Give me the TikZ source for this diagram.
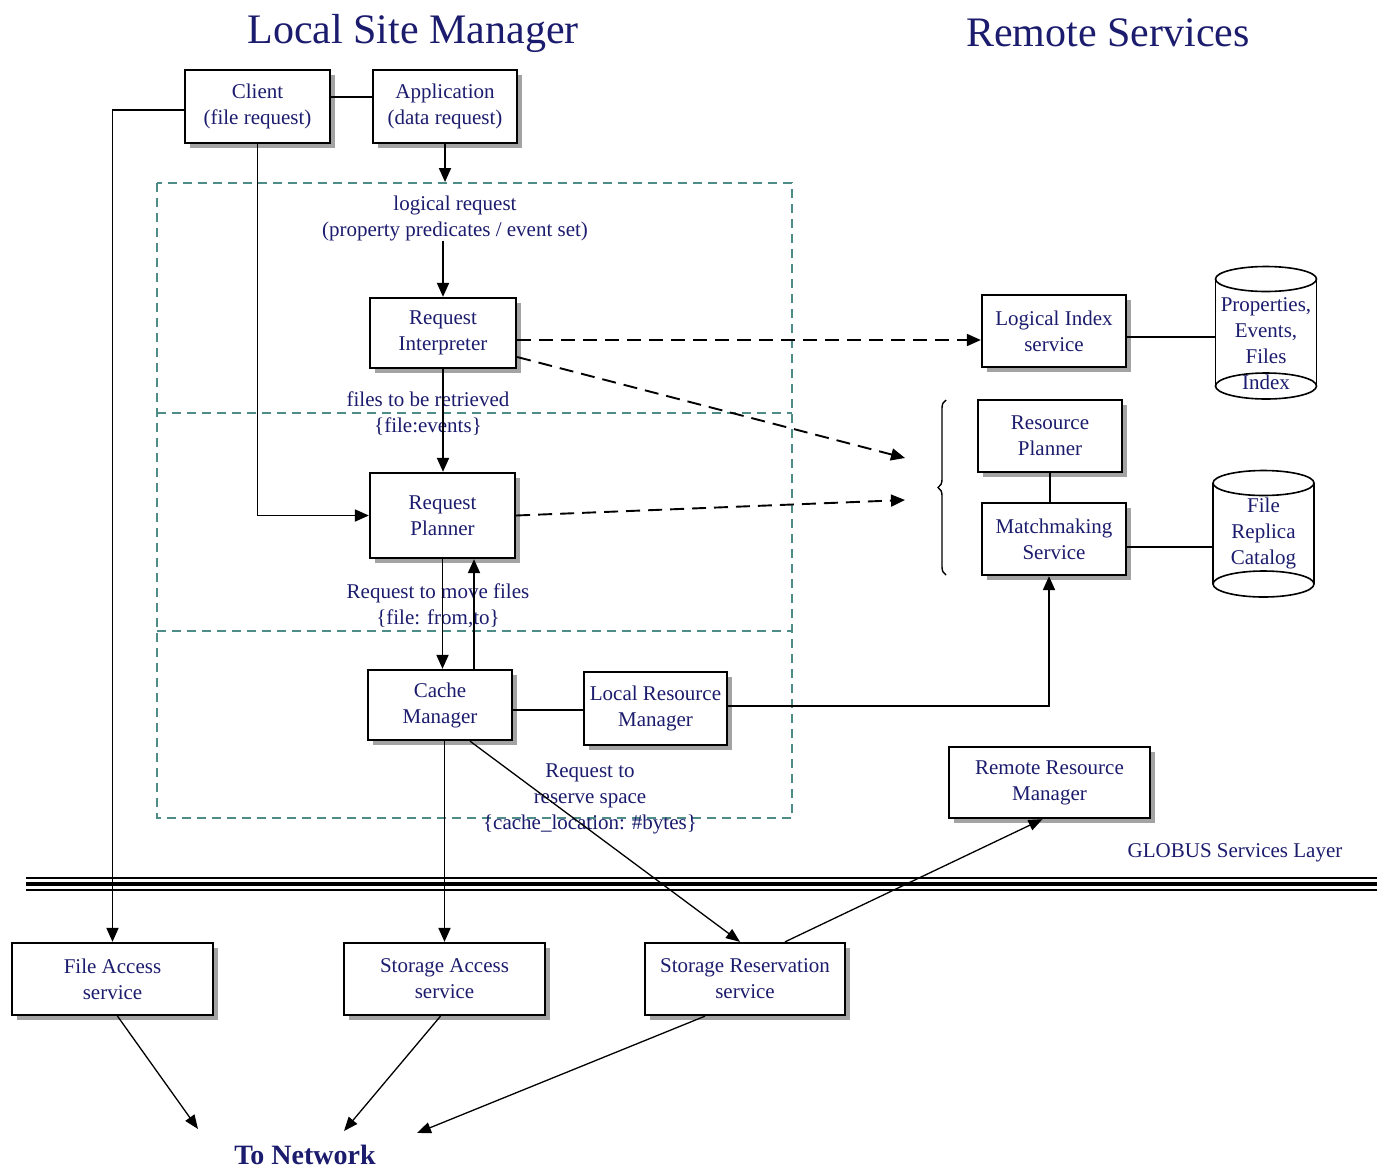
\documentclass[tikz,border=0pt]{standalone}
\usepackage{fontspec}
\setmainfont{Liberation Serif}
\usetikzlibrary{arrows.meta,shadows,decorations.pathreplacing}
\definecolor{ink}{HTML}{1C1C6E}
\definecolor{zone}{HTML}{4E8C88}
\tikzset{
  box/.style={draw=black, line width=2.3pt, fill=white, inner sep=0pt,
    align=center, text=ink, font=\fontsize{21}{26}\selectfont,
    drop shadow={shadow xshift=5pt, shadow yshift=-5pt, fill=black!45, opacity=0.8}},
  lbl/.style={align=center, text=ink, inner sep=0pt, font=\fontsize{21}{26}\selectfont},
  cyltext/.style={align=center, text=ink, inner sep=0pt, font=\fontsize{21}{26}\selectfont},
  title/.style={text=ink, inner sep=0pt, font=\fontsize{42}{48}\selectfont},
  wire/.style={line width=1.9pt},
  arr/.style={wire, -{Triangle[length=14pt,width=12pt]}},
  thinarr/.style={line width=1.3pt, -{Triangle[length=14pt,width=11pt]}},
  darr/.style={line width=1.9pt, dash pattern=on 14pt off 8pt, -{Triangle[length=14pt,width=12pt]}},
  zoneline/.style={draw=zone, line width=1.4pt, dash pattern=on 9pt off 6pt},
}
\begin{document}
\begin{tikzpicture}[x=1pt, y=-1pt]
\useasboundingbox[fill=white] (0,0) rectangle (1377,1168);

% titles
\node[title] (tlocal) at (413,33) {Local Site Manager};
\node[title] (tremote) at (1108,33) {Remote Services};

% local site zone with its three bands
\draw[zoneline] (157,183) rectangle (792,818);
\draw[zoneline] (157,413) -- (792,413);
\draw[zoneline] (157,631) -- (792,631);

% GLOBUS layer separator
\draw[line width=1.2pt] (26,878) -- (1377,878);
\draw[line width=3.2pt] (26,884) -- (1377,884);
\draw[line width=1.2pt] (26,890) -- (1377,890);

% boxes
\node[box, minimum width=145, minimum height=73] (client) at (257.5,106.5) {Client\\(file request)};
\node[box, minimum width=144, minimum height=73] (app) at (445,106.5) {Application\\(data request)};
\node[box, minimum width=146, minimum height=70] (ri) at (443,333) {Request\\Interpreter};
\node[box, minimum width=145, minimum height=85] (rp) at (442.5,515.5) {Request\\Planner};
\node[box, minimum width=144, minimum height=70] (cm) at (440,705) {Cache\\Manager};
\node[box, minimum width=143, minimum height=73] (lrm) at (655.5,708.5) {Local Resource\\Manager};
\node[box, minimum width=144, minimum height=72] (lis) at (1054,331) {Logical Index\\service};
\node[box, minimum width=144, minimum height=72] (resp) at (1050,436) {Resource\\Planner};
\node[box, minimum width=144, minimum height=72] (mm) at (1054,539) {Matchmaking\\Service};
\node[box, minimum width=201, minimum height=71] (rrm) at (1049.5,782.5) {Remote Resource\\Manager};
\node[box, minimum width=201, minimum height=72] (fas) at (112.5,979) {File Access\\service};
\node[box, minimum width=201, minimum height=72] (sas) at (444.5,979) {Storage Access\\service};
\node[box, minimum width=200, minimum height=72] (srs) at (745,979) {Storage Reservation\\service};

% catalogue cylinders
\node[cyltext, minimum width=101] (pcyl) at (1266,344) {Properties,\\Events,\\Files\\Index};
\draw[line width=1.6pt] (1266,279) ellipse [x radius=50.5, y radius=12.5];
\draw[line width=1.6pt] (1266,386) ellipse [x radius=50.5, y radius=13];
\draw[line width=1.6pt] (1215.5,279) -- (1215.5,386) (1316.5,279) -- (1316.5,386);

\node[cyltext, minimum width=101] (fcyl) at (1263.5,533) {File\\Replica\\Catalog};
\draw[line width=1.6pt] (1263.5,483) ellipse [x radius=50.5, y radius=12.5];
\draw[line width=1.6pt] (1263.5,584) ellipse [x radius=50.5, y radius=13];
\draw[line width=1.6pt] (1213,483) -- (1213,584) (1314,483) -- (1314,584);

% brace grouping the resource services
\draw[line width=1.4pt, decorate, decoration={brace, amplitude=8pt}] (946,575) -- (946,400);

% labels
\node[lbl] (lreq) at (455,218) {logical request\\(property predicates / event set)};
\node[lbl] (ftr) at (428,414) {files to be retrieved\\\{file:events\}};
\node[lbl] (rmf) at (438,606) {Request to move files\\\{file: from,to\}};
\node[lbl] (rrs) at (590,799) {Request to\\reserve space\\\{cache\_location: \#bytes\}};
\node[lbl] (globus) at (1235,853) {GLOBUS Services Layer};
\node[text=ink, inner sep=0pt, font=\fontsize{28}{32}\selectfont\bfseries] (net) at (305,1155) {To Network};

% free ends of connectors
\coordinate (ztop) at (445,182);
\coordinate (br1) at (905,458);
\coordinate (br2) at (905,500);
\coordinate (n1) at (198,1129);
\coordinate (n2) at (344,1131);
\coordinate (n3) at (417,1133);

% connectors
\draw[wire] ([yshift=9.5pt]client.east) -- ([yshift=9.5pt]client.east -| app.west);
\draw[arr] (app.south) -- (ztop);
\draw[arr] (lreq.south -| ri.north) -- (ri.north);
\draw[arr] ([yshift=-3.5pt]client.west) -| (fas.north);
\draw[arr] (client.south) |- (rp.west);
\draw[arr] (ri.south) -- (ri.south |- rp.north);
\draw[arr] (rp.south) -- (rp.south |- cm.north);
\draw[arr] ([xshift=34pt]cm.north) -- ([xshift=34pt]cm.north |- rp.south);
\draw[wire] ([yshift=-5pt]cm.east) -- ([yshift=-5pt]cm.east -| lrm.west);
\draw[arr] ([yshift=2.5pt]lrm.east) -| ([xshift=-5pt]mm.south);
\draw[darr] ([yshift=-7pt]ri.east) -- ([yshift=-7pt]ri.east -| lis.west);
\draw[darr] ([yshift=-24pt]ri.east) -- (br1);
\draw[darr] (rp.east) -- (br2);
\draw[wire] ([yshift=-6pt]lis.east) -- ([yshift=-6pt]lis.east -| pcyl.west);
\draw[wire] (resp.south) -- (resp.south |- mm.north);
\draw[wire] ([yshift=-8pt]mm.east) -- ([yshift=-8pt]mm.east -| fcyl.west);
\draw[arr] (cm.south -| sas.north) -- (sas.north);
\draw[thinarr] ([xshift=30pt]cm.south) -- ([xshift=-5pt]srs.north);
\draw[thinarr] ([xshift=40pt]srs.north) -- ([xshift=-7pt]rrm.south);
\draw[thinarr] ([xshift=5pt]fas.south) -- (n1);
\draw[thinarr] ([xshift=-4pt]sas.south) -- (n2);
\draw[thinarr] ([xshift=-40pt]srs.south) -- (n3);
\end{tikzpicture}
\end{document}
